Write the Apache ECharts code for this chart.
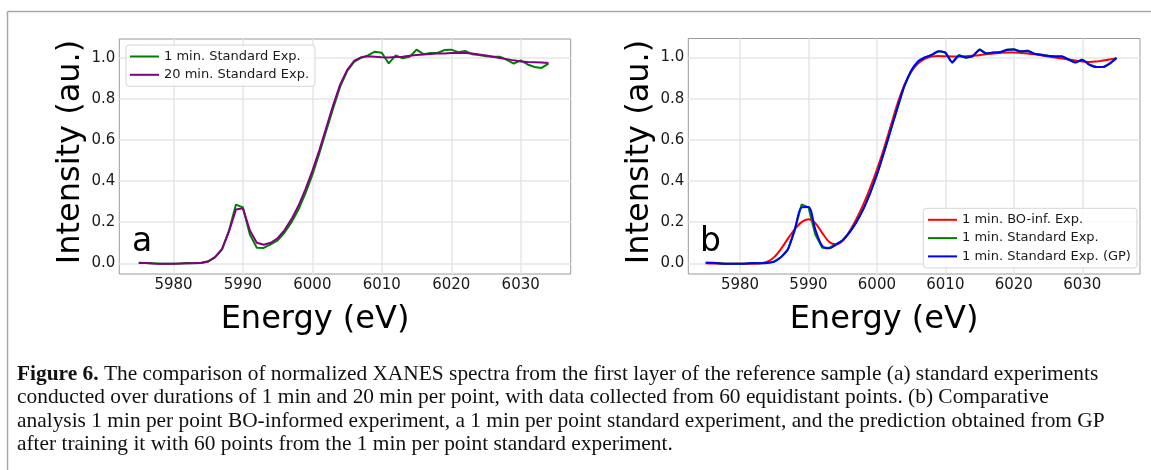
<!DOCTYPE html>
<html>
<head>
<meta charset="utf-8">
<script src="https://cdn.jsdelivr.net/npm/echarts@6/dist/echarts.min.js"></script>
<style>
html,body{margin:0;padding:0;background:#fff;}
#c{width:1151px;height:470px;}
</style>
</head>
<body>
<div id="c"></div>
<script>
// ---------- data ----------
const energyA = [5975,5976,5977,5978,5979,5980,5981,5982,5983,5984,5985,5986,5987,5988,5989,5990,5991,5992,5993,5994,5995,5996,5997,5998,5999,6000,6001,6002,6003,6004,6005,6006,6007,6008,6009,6010,6011,6012,6013,6014,6015,6016,6017,6018,6019,6020,6021,6022,6023,6024,6025,6026,6027,6028,6029,6030,6031,6032,6033,6034];
const std1minA = [0.003,0.002,0.000,-0.002,-0.002,-0.002,-0.001,0.001,0.000,0.002,0.008,0.030,0.068,0.160,0.286,0.272,0.140,0.076,0.075,0.092,0.112,0.150,0.200,0.262,0.340,0.430,0.535,0.645,0.755,0.860,0.935,0.980,1.000,1.012,1.030,1.025,0.973,1.012,0.998,1.005,1.040,1.018,1.024,1.024,1.038,1.040,1.028,1.034,1.018,1.014,1.008,1.006,1.006,0.990,0.972,0.988,0.968,0.956,0.951,0.972];
const std20minA = [0.002,0.001,-0.001,-0.002,-0.002,-0.002,-0.001,0.000,0.001,0.003,0.010,0.030,0.070,0.155,0.262,0.268,0.160,0.100,0.090,0.100,0.122,0.162,0.215,0.280,0.360,0.450,0.550,0.660,0.770,0.870,0.940,0.985,1.003,1.008,1.006,1.003,1.002,1.004,1.006,1.010,1.014,1.017,1.019,1.021,1.022,1.024,1.025,1.024,1.021,1.017,1.012,1.006,1.000,0.994,0.988,0.983,0.980,0.979,0.978,0.975];

const energyB = [5975,5976,5977,5978,5979,5980,5981,5982,5983,5984,5985,5986,5987,5988,5989,5990,5991,5992,5993,5994,5995,5996,5997,5998,5999,6000,6001,6002,6003,6004,6005,6006,6007,6008,6009,6010,6011,6012,6013,6014,6015,6016,6017,6018,6019,6020,6021,6022,6023,6024,6025,6026,6027,6028,6029,6030,6031,6032,6033,6034,6035];
const bo1minB = [0.000,-0.001,-0.002,-0.002,-0.002,-0.002,-0.002,-0.002,0.000,0.008,0.030,0.070,0.120,0.165,0.200,0.214,0.195,0.148,0.105,0.092,0.110,0.155,0.215,0.285,0.365,0.455,0.555,0.665,0.775,0.865,0.930,0.970,0.993,1.004,1.007,1.006,1.005,1.005,1.006,1.008,1.011,1.015,1.019,1.022,1.024,1.024,1.022,1.019,1.015,1.010,1.005,1.000,0.995,0.990,0.985,0.980,0.978,0.980,0.985,0.990,0.996];
const std1minB = [0.003,0.002,0.000,-0.002,-0.002,-0.002,-0.001,0.001,0.000,0.002,0.008,0.030,0.068,0.160,0.286,0.272,0.140,0.076,0.075,0.092,0.112,0.150,0.200,0.262,0.340,0.430,0.535,0.645,0.755,0.860,0.935,0.980,1.000,1.012,1.030,1.025,0.973,1.012,0.998,1.005,1.040,1.018,1.024,1.024,1.038,1.040,1.028,1.034,1.018,1.014,1.008,1.006,1.006,0.990,0.975,0.990,0.966,0.955,0.953,0.970,0.997];
const gp1minB = [0.003,0.003,0.000,-0.002,-0.002,-0.002,-0.001,0.001,0.000,0.002,0.008,0.030,0.068,0.165,0.272,0.274,0.165,0.085,0.073,0.090,0.112,0.150,0.200,0.262,0.340,0.430,0.535,0.645,0.755,0.860,0.935,0.980,1.000,1.012,1.030,1.022,0.978,1.008,1.000,1.008,1.036,1.020,1.024,1.026,1.036,1.038,1.030,1.030,1.018,1.012,1.008,1.005,1.004,0.990,0.976,0.988,0.965,0.953,0.953,0.970,0.997];

const xTicks = [5980,5990,6000,6010,6020,6030];
const yTicks = [0,0.2,0.4,0.6,0.8,1.0];

const namesA = ['1 min. Standard Exp.','20 min. Standard Exp.'];
const namesB = ['1 min. BO-inf. Exp.','1 min. Standard Exp.','1 min. Standard Exp. (GP)'];

const captionLines = [
  ['Figure 6.', ' The comparison of normalized XANES spectra from the first layer of the reference sample (a) standard experiments'],
  ['', 'conducted over durations of 1 min and 20 min per point, with data collected from 60 equidistant points. (b) Comparative'],
  ['', 'analysis 1 min per point BO-informed experiment, a 1 min per point standard experiment, and the prediction obtained from GP'],
  ['', 'after training it with 60 points from the 1 min per point standard experiment.']
];

// ---------- styling ----------
const SANS = '"DejaVu Sans", sans-serif';
const SERIF = '"Liberation Serif", "DejaVu Serif", serif';
const TXT = '#1a1a1a';
const pair = (xs, ys) => xs.map((x, i) => [x, ys[i]]);

function xAxis(gi, min, max) {
  return {
    type: 'value', gridIndex: gi, min: min, max: max,
    axisLine: {show: false},
    axisTick: {show: false, customValues: xTicks},
    axisLabel: {customValues: xTicks, fontFamily: SANS, fontSize: 15, color: TXT, margin: 4,
      formatter: v => String(v)},
    splitLine: {show: true, lineStyle: {color: '#e6e6e6', width: 1.5}}
  };
}
function yAxis(gi) {
  return {
    type: 'value', gridIndex: gi, min: -0.052, max: 1.092,
    axisLine: {show: false},
    axisTick: {show: false, customValues: yTicks},
    axisLabel: {customValues: yTicks, fontFamily: SANS, fontSize: 15, color: TXT, margin: 4,
      formatter: v => v.toFixed(1)},
    splitLine: {show: true, lineStyle: {color: '#e6e6e6', width: 1.5}}
  };
}
function line(name, xs, ys, color, xi, smooth, z) {
  return {
    type: 'line', name: name, xAxisIndex: xi, yAxisIndex: xi,
    data: pair(xs, ys), symbol: 'none', showSymbol: false, smooth: smooth || false,
    lineStyle: {color: color, width: 2}, itemStyle: {color: color}, z: z || 2,
    emphasis: {disabled: true}
  };
}
const legendBase = {
  orient: 'vertical', icon: 'rect', itemWidth: 29, itemHeight: 2, itemGap: 5.3,
  backgroundColor: 'rgba(255,255,255,0.85)', borderColor: '#d6d6d6', borderWidth: 1, borderRadius: 3,
  textStyle: {fontFamily: SANS, fontSize: 13, color: TXT},
  selectedMode: false
};

// caption font size fitted to the reference line width
const mctx = document.createElement('canvas').getContext('2d');
function tw(font, s) { mctx.font = font; return mctx.measureText(s).width; }
const baseFs = 18;
const w1 = tw('bold ' + baseFs + 'px ' + SERIF, captionLines[0][0]) + tw(baseFs + 'px ' + SERIF, captionLines[0][1]);
const capFs = baseFs * 1082 / w1;
const capY = [374.5, 397.8, 421.1, 444.4];

const graphics = [
  {type: 'line', shape: {x1: 7.5, y1: 11.5, x2: 1151, y2: 11.5}, style: {stroke: '#a8a8a8', lineWidth: 1.5}, silent: true},
  {type: 'line', shape: {x1: 7.5, y1: 11.5, x2: 7.5, y2: 470}, style: {stroke: '#a8a8a8', lineWidth: 1.5}, silent: true},
  {type: 'text', x: 70.5, y: 152, rotation: Math.PI / 2,
    style: {text: 'Intensity (au.)', fontFamily: SANS, fontSize: 32, fill: '#000', align: 'center', verticalAlign: 'middle'}},
  {type: 'text', x: 639.5, y: 152, rotation: Math.PI / 2,
    style: {text: 'Intensity (au.)', fontFamily: SANS, fontSize: 32, fill: '#000', align: 'center', verticalAlign: 'middle'}},
  {type: 'text', x: 315, y: 320,
    style: {text: 'Energy (eV)', fontFamily: SANS, fontSize: 32, fill: '#000', align: 'center', verticalAlign: 'middle'}},
  {type: 'text', x: 884, y: 320,
    style: {text: 'Energy (eV)', fontFamily: SANS, fontSize: 32, fill: '#000', align: 'center', verticalAlign: 'middle'}},
  {type: 'text', x: 132, y: 242,
    style: {text: 'a', fontFamily: SANS, fontSize: 33, fill: '#000', align: 'left', verticalAlign: 'middle'}, z: 10},
  {type: 'text', x: 700, y: 242,
    style: {text: 'b', fontFamily: SANS, fontSize: 33, fill: '#000', align: 'left', verticalAlign: 'middle'}, z: 10}
];
captionLines.forEach((ln, i) => {
  graphics.push({
    type: 'text', x: 17, y: capY[i],
    style: {
      text: (ln[0] ? '{b|' + ln[0] + '}' : '') + '{r|' + ln[1] + '}',
      rich: {
        b: {fontFamily: SERIF, fontSize: capFs, fontWeight: 'bold', fill: '#111'},
        r: {fontFamily: SERIF, fontSize: capFs, fill: '#111'}
      },
      fontFamily: SERIF, fontSize: capFs, fill: '#111', align: 'left', verticalAlign: 'middle'
    }
  });
});

const option = {
  animation: false,
  backgroundColor: '#fff',
  grid: [
    {left: 119.3, top: 39, width: 451.4, height: 235, show: true, borderColor: '#9a9a9a', borderWidth: 1, backgroundColor: 'transparent', containLabel: false},
    {left: 688.3, top: 38.5, width: 451.7, height: 235.5, show: true, borderColor: '#9a9a9a', borderWidth: 1, backgroundColor: 'transparent', containLabel: false}
  ],
  xAxis: [xAxis(0, 5972.2, 6037.2), xAxis(1, 5972.45, 6038.43)],
  yAxis: [yAxis(0), yAxis(1)],
  legend: [
    Object.assign({}, legendBase, {data: namesA, left: 126, top: 45, padding: [5, 6, 5, 4]}),
    Object.assign({}, legendBase, {data: namesB, left: 923.3, top: 208.3, padding: [5, 6, 5, 4.7]})
  ],
  series: [
    line(namesA[0], energyA, std1minA, '#008000', 0, false, 2),
    line(namesA[1], energyA, std20minA, '#800080', 0, false, 3),
    line(namesB[0], energyB, bo1minB, '#ff0000', 1, 0.3, 2),
    line(namesB[1], energyB, std1minB, '#008000', 1, false, 3),
    line(namesB[2], energyB, gp1minB, '#0000ff', 1, 0.3, 4)
  ],
  graphic: graphics
};

const chart = echarts.init(document.getElementById('c'), null, {renderer: 'canvas'});
chart.setOption(option);
</script>
</body>
</html>
